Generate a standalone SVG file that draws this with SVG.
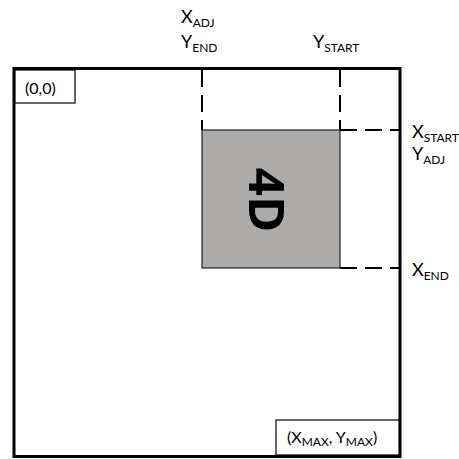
<svg xmlns="http://www.w3.org/2000/svg" width="459" height="459" viewBox="0 0 459 459">
  <style>
    .lbl { font-family: Lato, "Liberation Sans", sans-serif; font-size: 18px; fill: #000; }
    .sub { font-size: 12px; }
    .dash { stroke: #000; stroke-width: 2; stroke-dasharray: 17 8; fill: none; }
    .frame { fill: #fff; stroke: #000; stroke-width: 1.2; }
  </style>
  <rect width="459" height="459" fill="#fff"/>

  <!-- outer screen frame -->
  <g id="screen">
    <rect x="14" y="68.5" width="386" height="388" fill="none" stroke="#000" stroke-width="3"/>
  </g>

  <!-- corner boxes -->
  <g id="origin">
    <rect class="frame" x="15" y="70" width="60" height="33"/>
    <text class="lbl" x="25" y="94" style="font-size:16px">(0,0)</text>
  </g>
  <g id="max">
    <rect class="frame" x="276" y="420" width="123" height="35"/>
    <text class="lbl" x="287" y="443" style="font-size:16px">(X<tspan class="sub" dy="3">MAX</tspan><tspan dy="-3">, Y</tspan><tspan class="sub" dy="3">MAX</tspan><tspan dy="-3">)</tspan></text>
  </g>

  <!-- projection lines -->
  <g id="connectors">
    <line class="dash" x1="202" y1="70" x2="202" y2="130"/>
    <line class="dash" x1="340" y1="70" x2="340" y2="130"/>
    <line class="dash" x1="340" y1="130" x2="399" y2="130"/>
    <line class="dash" x1="340" y1="268" x2="399" y2="268"/>
  </g>

  <!-- window block -->
  <g id="block">
    <rect x="202" y="130" width="138" height="138" fill="#ADAAAA" stroke="#222" stroke-width="1.2"/>
    <text transform="translate(266,200) rotate(90)" x="0" y="17" text-anchor="middle" style="font-family: 'Open Sans', 'Liberation Sans', sans-serif; font-weight: bold; font-size: 49px;">4D</text>
  </g>

  <!-- axis labels -->
  <g id="labels">
    <text class="lbl" x="181" y="23">X<tspan class="sub" dy="4">ADJ</tspan></text>
    <text class="lbl" x="181" y="48">Y<tspan class="sub" dy="4">END</tspan></text>
    <text class="lbl" x="313" y="48">Y<tspan class="sub" dy="4">START</tspan></text>
    <text class="lbl" x="412" y="138">X<tspan class="sub" dy="4">START</tspan></text>
    <text class="lbl" x="412" y="160">Y<tspan class="sub" dy="4">ADJ</tspan></text>
    <text class="lbl" x="412" y="276">X<tspan class="sub" dy="4">END</tspan></text>
  </g>
</svg>
